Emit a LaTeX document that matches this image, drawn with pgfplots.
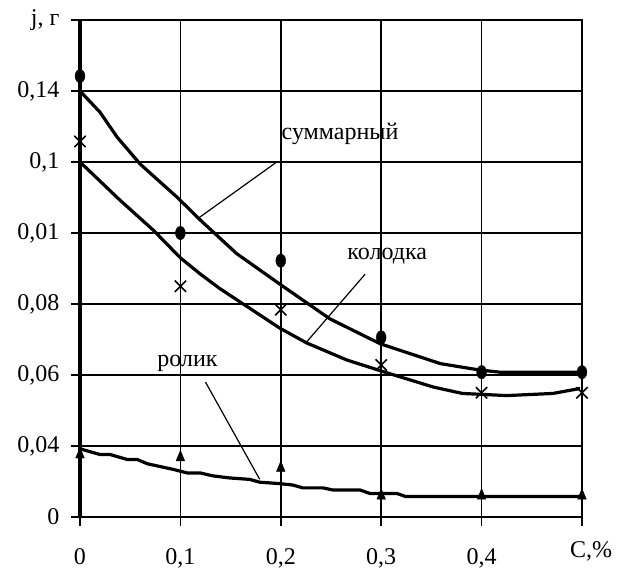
\documentclass[border=0pt]{standalone}
\usepackage{fontspec}
\setmainfont{Liberation Serif}
\usepackage{pgfplots}
\pgfplotsset{compat=1.18}
\begin{document}
\begin{tikzpicture}[font=\fontsize{24}{28}\selectfont]
\useasboundingbox (-80pt,-54pt) rectangle (542pt,517pt);
\begin{axis}[at={(0,0)}, anchor=south west, scale only axis, width=502pt, height=497pt,
 xmin=0, xmax=0.5, ymin=0, ymax=7,
 xtick={0,0.1,0.2,0.3,0.4,0.5}, xticklabels={0,{0,1},{0,2},{0,3},{0,4},{}},
 ytick={0,1,2,3,4,5,6,7}, yticklabels={0,{0,04},{0,06},{0,08},{0,01},{0,1},{0,14},{j, г}},
 grid=major, grid style={black, line width=1.5pt},
 axis line style={black, line width=1.8pt},
 tick style={black, line width=1.5pt},
 tick align=outside, major tick length=9pt, tick pos=left,
 xticklabel style={yshift=-19pt},
 yticklabel style={xshift=-8pt},
 clip=false,
]
% summary curve
\addplot[black, line width=3.2pt] coordinates {(0,6.0) (0.020,5.70) (0.037,5.35) (0.060,4.97) (0.097,4.5) (0.120,4.18) (0.156,3.71) (0.199,3.28) (0.249,2.79) (0.299,2.44) (0.359,2.16) (0.398,2.07) (0.418,2.04) (0.498,2.04)};
% kolodka curve
\addplot[black, line width=3.2pt] coordinates {(0,5.0) (0.040,4.46) (0.073,4.04) (0.100,3.65) (0.120,3.42) (0.139,3.22) (0.199,2.66) (0.226,2.45) (0.266,2.21) (0.306,2.03) (0.352,1.83) (0.381,1.74) (0.425,1.71) (0.471,1.74) (0.498,1.81)};
% rolik curve
\addplot[black, line width=3.2pt] coordinates {(0,0.96) (0.020,0.88) (0.030,0.88) (0.047,0.81) (0.057,0.81) (0.067,0.75) (0.093,0.67) (0.107,0.62) (0.120,0.62) (0.132,0.58) (0.149,0.55) (0.169,0.53) (0.179,0.49) (0.199,0.47) (0.212,0.45) (0.222,0.41) (0.242,0.41) (0.252,0.38) (0.279,0.38) (0.289,0.33) (0.316,0.33) (0.324,0.29) (0.5,0.29)};
% markers
\addplot[black, only marks, mark=*, mark size=5.8pt, mark options={xscale=0.85, yscale=1.15}] coordinates {(0,6.21) (0.1,4.0) (0.2,3.61) (0.3,2.53) (0.4,2.04) (0.5,2.04)};
\addplot[black, only marks, mark=x, mark size=8pt, mark options={line width=1.6pt}] coordinates {(0,5.29) (0.1,3.25) (0.2,2.92) (0.3,2.14) (0.4,1.75) (0.5,1.75)};
\addplot[black, only marks, mark=triangle*, mark size=5pt, mark options={yscale=1.4}] coordinates {(0,0.88) (0.1,0.84) (0.2,0.69) (0.3,0.30) (0.4,0.30) (0.5,0.30)};
% leaders and labels
\draw[black, line width=1.2pt] (axis cs:0.196,5.0) -- (axis cs:0.118,4.21);
\draw[black, line width=1.2pt] (axis cs:0.284,3.42) -- (axis cs:0.226,2.47);
\draw[black, line width=1.2pt] (axis cs:0.125,1.90) -- (axis cs:0.179,0.53);
\node at (axis cs:0.259,5.39) {суммарный};
\node at (axis cs:0.306,3.68) {колодка};
\node at (axis cs:0.107,2.16) {ролик};
\node at (axis cs:0.509,0) [yshift=-34pt] {C,\%};
\draw[black, line width=3.5pt] (axis cs:0,0) -- (axis cs:0,7);
\end{axis}
\end{tikzpicture}
\end{document}
